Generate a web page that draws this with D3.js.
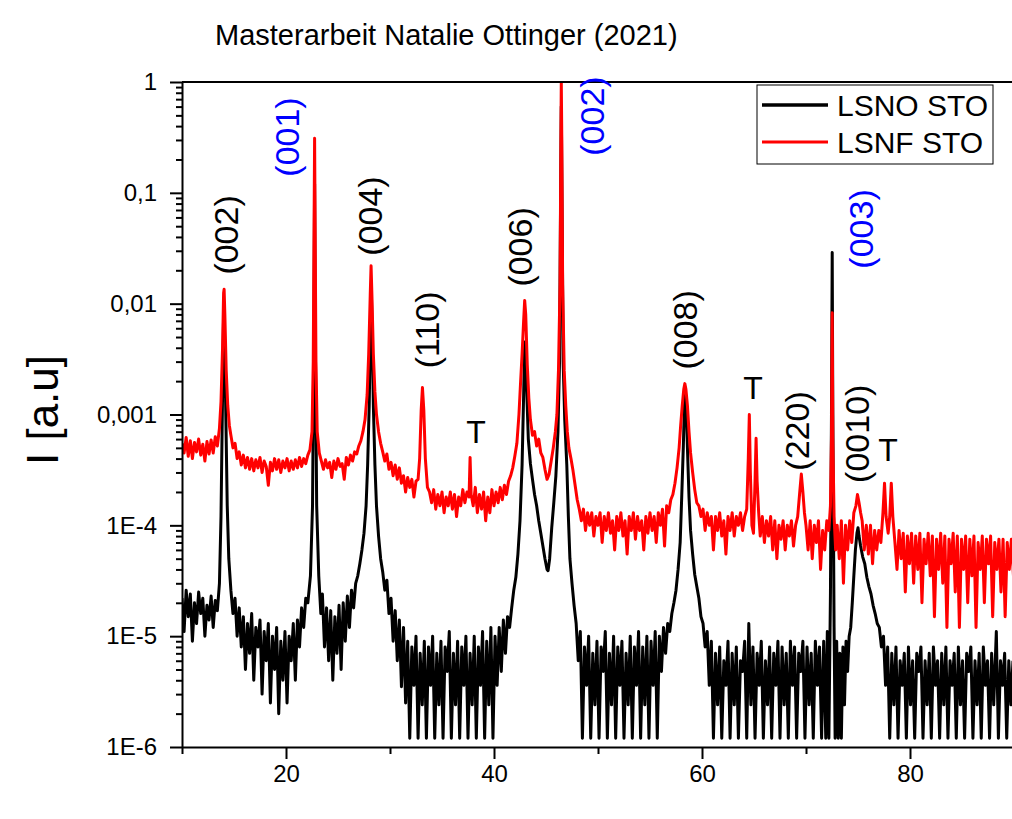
<!DOCTYPE html>
<html>
<head>
<meta charset="utf-8">
<script src="https://cdn.jsdelivr.net/npm/d3@7"></script>
<style>
  html, body { margin: 0; padding: 0; background: #fff; }
  svg { display: block; font-family: "Liberation Sans", Arial, sans-serif; }
</style>
</head>
<body>
<svg id="chart" width="1012" height="819"></svg>
<script>
// Daten: [2theta, Intensität]
const lsnoScan = [
  [10.0,2.2e-5],[10.2,1.1e-5],[10.4,2.6e-5],[10.6,1.5e-5],[10.8,2.4e-5],[11.0,9e-6],[11.2,2.0e-5],[11.4,1.3e-5],
  [11.6,2.5e-5],[11.8,1.6e-5],[12.0,2.2e-5],[12.2,1.0e-5],[12.4,1.9e-5],[12.6,1.4e-5],[12.8,2.3e-5],[13.0,1.2e-5],
  [13.2,2.1e-5],[13.4,1.7e-5],[13.6,3.0e-5],[13.75,1.2e-4],[13.9,1.5e-3],[14.0,8e-3],[14.08,6e-3],[14.2,1.2e-3],
  [14.35,1.5e-4],[14.5,5e-5],[14.7,2.6e-5],[14.9,1.6e-5],[15.1,2.2e-5],[15.3,1.0e-5],[15.5,1.8e-5],[15.7,8e-6],
  [15.9,1.5e-5],[16.1,5e-6],[16.3,1.3e-5],[16.5,7e-6],[16.7,1.6e-5],[16.9,4e-6],[17.1,1.2e-5],[17.3,8e-6],
  [17.5,1.4e-5],[17.7,3e-6],[17.9,1.1e-5],[18.1,6e-6],[18.3,1.3e-5],[18.5,2.5e-6],[18.7,1.0e-5],[18.9,5e-6],
  [19.1,1.2e-5],[19.3,2.0e-6],[19.5,9e-6],[19.7,4e-6],[19.9,1.1e-5],[20.1,2.5e-6],[20.3,1.0e-5],[20.5,6e-6],
  [20.7,1.3e-5],[20.9,4e-6],[21.1,1.4e-5],[21.3,8e-6],[21.5,1.8e-5],[21.7,1.2e-5],[21.9,2.2e-5],[22.1,2.0e-5],
  [22.35,3.5e-5],[22.55,1.5e-4],[22.68,5e-3],[22.75,0.12],[22.82,5e-3],[22.95,1.5e-4],[23.15,3.5e-5],[23.35,1.6e-5],
  [23.5,2.4e-5],[23.7,8e-6],[23.9,1.8e-5],[24.1,6e-6],[24.3,1.7e-5],[24.5,4e-6],[24.7,1.5e-5],[24.9,7e-6],
  [25.1,1.9e-5],[25.3,5e-6],[25.5,2.0e-5],[25.7,9e-6],[25.9,2.3e-5],[26.1,1.2e-5],[26.3,2.6e-5],[26.5,1.8e-5],
  [26.7,3.0e-5],[26.9,3.5e-5],[27.1,4.5e-5],[27.3,6e-5],[27.5,8.5e-5],[27.7,1.5e-4],[27.85,3.5e-4],[28.0,1.2e-3],
  [28.12,6e-3],[28.2,0.014],[28.28,6e-3],[28.4,1.2e-3],[28.55,3.5e-4],[28.7,1.5e-4],[28.9,8e-5],[29.1,5e-5],
  [29.3,3.8e-5],[29.5,2.6e-5],[29.7,3.2e-5],[29.9,1.6e-5],[30.1,2.2e-5],[30.3,9e-6],[30.5,1.7e-5],[30.7,6e-6],
  [30.9,1.4e-5],[31.1,3.5e-6],[31.3,1.2e-5],[31.5,2.5e-6],[31.7,9e-6],[31.9,1.2e-6],[32.1,8e-6],[32.3,3.6e-6],
  [32.5,1.0e-5],[32.7,1.2e-6],[32.9,7e-6],[33.1,2.4e-6],[33.3,9e-6],[33.5,1.2e-6],[33.7,8e-6],[33.9,3.6e-6],
  [34.1,1.0e-5],[34.3,1.2e-6],[34.5,7e-6],[34.7,2.4e-6],[34.9,9e-6],[35.1,1.2e-6],[35.3,8e-6],[35.5,4.8e-6],
  [35.7,1.1e-5],[35.9,1.2e-6],[36.1,7e-6],[36.3,2.4e-6],[36.5,9e-6],[36.7,1.2e-6],[36.9,8e-6],[37.1,3.6e-6],
  [37.3,1.0e-5],[37.5,1.2e-6],[37.7,7e-6],[37.9,2.4e-6],[38.1,1.0e-5],[38.3,1.2e-6],[38.5,8e-6],[38.7,3.6e-6],
  [38.9,1.1e-5],[39.1,1.2e-6],[39.3,9e-6],[39.5,2.4e-6],[39.7,1.2e-5],[39.9,1.2e-6],[40.1,1.0e-5],[40.3,3.6e-6],
  [40.5,1.2e-5],[40.7,4.8e-6],[40.9,1.4e-5],[41.1,7e-6],[41.3,1.5e-5],[41.5,1.2e-5],[41.7,1.8e-5],[41.9,2.6e-5],
  [42.1,3.4e-5],[42.3,5.5e-5],[42.5,1.1e-4],[42.7,3.5e-4],[42.85,1.5e-3],[42.95,4.5e-3],[43.05,4e-3],[43.15,1.6e-3],
  [43.3,6e-4],[43.5,3.6e-4],[43.7,2.6e-4],[43.9,1.9e-4],[44.1,1.5e-4],[44.3,1.1e-4],[44.5,8.5e-5],[44.7,6.5e-5],
  [44.9,5e-5],[45.1,4e-5],[45.2,3.9e-5],[45.35,5e-5],[45.55,9.5e-5],[45.75,1.6e-4],[45.95,2.8e-4],[46.15,7e-4],
  [46.3,3e-3],[46.42,0.15],[46.47,0.6],[46.52,0.15],[46.65,3e-3],[46.8,9e-4],[47.0,3.5e-4],[47.15,1.2e-4],
  [47.3,5e-5],[47.5,3e-5],[47.7,1.9e-5],[47.9,1.3e-5],[48.1,6e-6],[48.3,1.1e-5],[48.5,1.2e-6],[48.7,8e-6],
  [48.9,3.6e-6],[49.1,1.0e-5],[49.3,1.2e-6],[49.5,7e-6],[49.7,2.4e-6],[49.9,9e-6],[50.1,1.2e-6],[50.3,8e-6],
  [50.5,4.8e-6],[50.7,1.1e-5],[50.9,1.2e-6],[51.1,7e-6],[51.3,2.4e-6],[51.5,1.0e-5],[51.7,1.2e-6],[51.9,8e-6],
  [52.1,3.6e-6],[52.3,9e-6],[52.5,1.2e-6],[52.7,7e-6],[52.9,2.4e-6],[53.1,1.0e-5],[53.3,1.2e-6],[53.5,8e-6],
  [53.7,3.6e-6],[53.9,1.1e-5],[54.1,1.2e-6],[54.3,8e-6],[54.5,2.4e-6],[54.7,1.0e-5],[54.9,1.2e-6],[55.1,9e-6],
  [55.3,3.6e-6],[55.5,1.1e-5],[55.7,1.2e-6],[55.9,1.0e-5],[56.1,4.8e-6],[56.3,1.2e-5],[56.5,7e-6],[56.7,1.3e-5],
  [56.9,1.1e-5],[57.1,1.6e-5],[57.3,2e-5],[57.5,2.6e-5],[57.7,4e-5],[57.9,7e-5],[58.05,1.8e-4],[58.2,5e-4],
  [58.32,1.3e-3],[58.4,1.6e-3],[58.48,1.3e-3],[58.6,5e-4],[58.75,1.8e-4],[58.9,9e-5],[59.1,5.5e-5],[59.3,3.6e-5],
  [59.5,2.8e-5],[59.7,2.2e-5],[59.9,1.5e-5],[60.1,1.3e-5],[60.3,8e-6],[60.5,1.1e-5],[60.7,3.6e-6],[60.9,9e-6],
  [61.1,1.2e-6],[61.3,7e-6],[61.5,2.4e-6],[61.7,8e-6],[61.9,1.2e-6],[62.1,6e-6],[62.3,3.6e-6],[62.5,9e-6],
  [62.7,1.2e-6],[62.9,7e-6],[63.1,2.4e-6],[63.3,8e-6],[63.5,1.2e-6],[63.7,6e-6],[63.9,4.8e-6],[64.1,9e-6],
  [64.3,1.2e-6],[64.5,1.3e-5],[64.7,2.4e-6],[64.9,8e-6],[65.1,1.2e-6],[65.3,7e-6],[65.5,3.6e-6],[65.7,9e-6],
  [65.9,1.2e-6],[66.1,6e-6],[66.3,2.4e-6],[66.5,8e-6],[66.7,1.2e-6],[66.9,7e-6],[67.1,3.6e-6],[67.3,9e-6],
  [67.5,1.2e-6],[67.7,8e-6],[67.9,2.4e-6],[68.1,7e-6],[68.3,1.2e-6],[68.5,9e-6],[68.7,3.6e-6],[68.9,8e-6],
  [69.1,1.2e-6],[69.3,7e-6],[69.5,4.8e-6],[69.7,9e-6],[69.9,1.2e-6],[70.1,8e-6],[70.3,2.4e-6],[70.5,7e-6],
  [70.7,1.2e-6],[70.9,9e-6],[71.1,3.6e-6],[71.3,8e-6],[71.5,1.2e-6],[71.7,9e-6],[71.9,1.2e-6],[72.05,1.1e-5],
  [72.2,1.2e-6],[72.35,2.4e-5],[72.45,1e-3],[72.52,0.029],[72.58,1e-3],[72.7,1.2e-5],[72.8,1.2e-6],[72.95,9e-6],
  [73.1,1.2e-6],[73.25,7e-6],[73.4,1.2e-6],[73.55,8e-6],[73.7,2.4e-6],[73.85,9e-6],[74.0,4.8e-6],[74.15,1.0e-5],
  [74.3,1.2e-5],[74.45,2e-5],[74.6,3.5e-5],[74.75,6e-5],[74.9,8.5e-5],[75.0,9.5e-5],[75.1,8e-5],[75.25,6.5e-5],
  [75.45,5.2e-5],[75.65,4.5e-5],[75.85,3.4e-5],[76.05,2.8e-5],[76.25,2.4e-5],[76.45,1.9e-5],[76.65,1.6e-5],[76.85,1.3e-5],
  [77.05,1.2e-5],[77.25,8e-6],[77.45,1.0e-5],[77.65,3.6e-6],[77.85,8e-6],[78.05,1.2e-6],[78.25,7e-6],[78.45,2.4e-6],
  [78.65,8e-6],[78.85,1.2e-6],[79.05,6e-6],[79.25,3.6e-6],[79.45,7e-6],[79.65,1.2e-6],[79.85,8e-6],[80.05,2.4e-6],
  [80.25,6e-6],[80.45,1.2e-6],[80.65,7e-6],[80.85,4.8e-6],[81.05,8e-6],[81.25,1.2e-6],[81.45,6e-6],[81.65,2.4e-6],
  [81.85,7e-6],[82.05,1.2e-6],[82.25,8e-6],[82.45,3.6e-6],[82.65,6e-6],[82.85,1.2e-6],[83.05,7e-6],[83.25,2.4e-6],
  [83.45,8e-6],[83.65,1.2e-6],[83.85,6e-6],[84.05,3.6e-6],[84.25,7e-6],[84.45,1.2e-6],[84.65,8e-6],[84.85,2.4e-6],
  [85.05,6e-6],[85.25,1.2e-6],[85.45,7e-6],[85.65,4.8e-6],[85.85,8e-6],[86.05,1.2e-6],[86.25,6e-6],[86.45,2.4e-6],
  [86.65,7e-6],[86.85,1.2e-6],[87.05,8e-6],[87.25,3.6e-6],[87.45,6e-6],[87.65,1.2e-6],[87.85,7e-6],[88.05,2.4e-6],
  [88.3,1.1e-5],[88.5,1.2e-6],[88.7,6e-6],[88.9,3.6e-6],[89.1,7e-6],[89.3,1.2e-6],[89.5,6e-6],[89.7,2.4e-6],
  [89.9,6e-6]
];

const lsnfScan = [
  [10.0,5.5e-4],[10.2,4.5e-4],[10.4,6.2e-4],[10.6,4.2e-4],[10.8,5.8e-4],[11.0,4.0e-4],[11.2,5.6e-4],[11.4,4.6e-4],
  [11.6,6.0e-4],[11.8,4.3e-4],[12.0,5.4e-4],[12.2,3.8e-4],[12.4,5.7e-4],[12.6,4.4e-4],[12.8,5.9e-4],[13.0,4.5e-4],
  [13.2,6.3e-4],[13.4,5.2e-4],[13.6,7.5e-4],[13.75,1.3e-3],[13.9,4e-3],[14.0,0.0125],[14.05,0.0135],[14.12,8e-3],
  [14.25,2.5e-3],[14.4,1.2e-3],[14.55,8e-4],[14.7,6.5e-4],[14.9,5e-4],[15.1,5.5e-4],[15.3,4.0e-4],[15.5,4.6e-4],
  [15.7,3.5e-4],[15.9,4.3e-4],[16.1,3.3e-4],[16.3,4.1e-4],[16.5,3.2e-4],[16.7,4.0e-4],[16.9,3.1e-4],[17.1,3.9e-4],
  [17.3,3.3e-4],[17.5,4.1e-4],[17.7,3.0e-4],[17.9,3.8e-4],[18.1,3.4e-4],[18.3,2.3e-4],[18.5,3.7e-4],[18.7,3.1e-4],
  [18.9,4.0e-4],[19.1,3.2e-4],[19.3,3.9e-4],[19.5,3.0e-4],[19.7,3.8e-4],[19.9,3.3e-4],[20.1,4.0e-4],[20.3,3.1e-4],
  [20.5,3.8e-4],[20.7,3.2e-4],[20.9,3.9e-4],[21.1,3.3e-4],[21.3,4.1e-4],[21.5,3.4e-4],[21.7,4.0e-4],[21.9,3.6e-4],
  [22.1,4.3e-4],[22.3,4.8e-4],[22.5,7e-4],[22.62,3e-3],[22.7,0.05],[22.75,0.31],[22.8,0.05],[22.88,3e-3],
  [23.0,7e-4],[23.2,4.5e-4],[23.4,3.8e-4],[23.6,3.2e-4],[23.8,3.9e-4],[24.0,3.3e-4],[24.2,3.7e-4],[24.4,2.7e-4],
  [24.6,3.8e-4],[24.8,3.2e-4],[25.0,4.0e-4],[25.2,3.4e-4],[25.4,3.6e-4],[25.6,2.6e-4],[25.8,4.1e-4],[26.0,3.5e-4],
  [26.2,4.3e-4],[26.4,3.8e-4],[26.6,4.6e-4],[26.8,4.4e-4],[27.0,5.2e-4],[27.2,5.8e-4],[27.4,7e-4],[27.6,9e-4],
  [27.8,1.5e-3],[27.95,3.5e-3],[28.1,0.012],[28.18,0.022],[28.26,0.012],[28.4,3.5e-3],[28.55,1.6e-3],[28.7,1.0e-3],
  [28.9,7e-4],[29.1,5.5e-4],[29.3,4.6e-4],[29.5,3.8e-4],[29.7,4.4e-4],[29.9,3.2e-4],[30.1,3.7e-4],[30.3,2.8e-4],
  [30.5,3.5e-4],[30.7,2.6e-4],[30.9,3.3e-4],[31.1,2.4e-4],[31.3,2.8e-4],[31.5,2.0e-4],[31.7,2.7e-4],[31.9,2.2e-4],
  [32.1,2.6e-4],[32.3,1.8e-4],[32.5,2.5e-4],[32.7,2.6e-4],[32.85,4e-4],[33.0,1.1e-3],[33.12,1.75e-3],[33.25,1.1e-3],
  [33.4,4e-4],[33.6,2.2e-4],[33.8,2.0e-4],[34.0,1.6e-4],[34.2,2.1e-4],[34.4,1.4e-4],[34.6,1.9e-4],[34.8,1.5e-4],
  [35.0,2.0e-4],[35.2,1.3e-4],[35.4,1.8e-4],[35.6,1.5e-4],[35.8,2.0e-4],[36.0,1.4e-4],[36.2,1.9e-4],[36.4,1.2e-4],
  [36.6,1.8e-4],[36.8,1.5e-4],[37.0,2.1e-4],[37.2,1.6e-4],[37.4,2.0e-4],[37.6,1.8e-4],[37.7,4.1e-4],[37.8,1.9e-4],
  [38.0,1.5e-4],[38.2,2.2e-4],[38.4,1.3e-4],[38.6,1.9e-4],[38.8,1.4e-4],[39.0,2.0e-4],[39.2,1.1e-4],[39.4,1.8e-4],
  [39.6,1.3e-4],[39.8,2.1e-4],[40.0,1.5e-4],[40.2,2.0e-4],[40.4,1.6e-4],[40.6,2.2e-4],[40.8,1.7e-4],[41.0,2.3e-4],
  [41.2,1.9e-4],[41.4,2.5e-4],[41.6,2.8e-4],[41.8,3.3e-4],[42.0,4.2e-4],[42.2,5.5e-4],[42.4,1.0e-3],[42.55,1.9e-3],
  [42.7,3.5e-3],[42.85,7e-3],[42.95,0.0107],[43.05,8e-3],[43.2,2.8e-3],[43.35,1.4e-3],[43.5,9e-4],[43.7,6.5e-4],
  [43.9,7e-4],[44.1,5.2e-4],[44.3,6e-4],[44.5,4.5e-4],[44.7,4.1e-4],[44.9,3.2e-4],[45.1,2.6e-4],[45.3,2.9e-4],
  [45.5,3.8e-4],[45.7,5e-4],[45.9,7e-4],[46.05,1.0e-3],[46.2,2.5e-3],[46.35,0.015],[46.43,0.3],[46.47,1.0],
  [46.52,0.3],[46.6,0.015],[46.75,2.5e-3],[46.9,1.2e-3],[47.05,7e-4],[47.2,5e-4],[47.4,4e-4],[47.6,3.1e-4],
  [47.8,2.3e-4],[48.0,1.7e-4],[48.2,1.4e-4],[48.4,1.1e-4],[48.6,1.4e-4],[48.8,9e-5],[49.0,1.3e-4],[49.2,1.0e-4],
  [49.4,1.3e-4],[49.6,8e-5],[49.8,1.2e-4],[50.0,1.0e-4],[50.2,1.3e-4],[50.4,7e-5],[50.6,1.2e-4],[50.8,9e-5],
  [51.0,1.3e-4],[51.2,8.5e-5],[51.4,1.1e-4],[51.6,6e-5],[51.8,1.2e-4],[52.0,9e-5],[52.2,1.3e-4],[52.4,8e-5],
  [52.6,1.1e-4],[52.8,5.5e-5],[53.0,1.2e-4],[53.2,9e-5],[53.4,1.3e-4],[53.6,7.5e-5],[53.8,1.2e-4],[54.0,9e-5],
  [54.2,1.1e-4],[54.4,6e-5],[54.6,1.2e-4],[54.8,8.5e-5],[55.0,1.3e-4],[55.2,9e-5],[55.4,1.2e-4],[55.6,7e-5],
  [55.8,1.3e-4],[56.0,1.0e-4],[56.2,1.4e-4],[56.4,6.5e-5],[56.6,1.5e-4],[56.8,1.3e-4],[57.0,1.7e-4],[57.2,1.9e-4],
  [57.4,2.4e-4],[57.6,3.3e-4],[57.8,5e-4],[57.95,8e-4],[58.1,1.2e-3],[58.25,1.7e-3],[58.35,1.9e-3],[58.45,1.7e-3],
  [58.6,1.2e-3],[58.75,7e-4],[58.9,4.5e-4],[59.1,3e-4],[59.3,2.1e-4],[59.5,1.6e-4],[59.7,1.5e-4],[59.9,1.2e-4],
  [60.1,1.4e-4],[60.3,9e-5],[60.5,1.3e-4],[60.7,1.0e-4],[60.9,1.2e-4],[61.1,6e-5],[61.3,1.2e-4],[61.5,9e-5],
  [61.7,1.3e-4],[61.9,8e-5],[62.1,1.1e-4],[62.3,5.5e-5],[62.5,1.2e-4],[62.7,9e-5],[62.9,1.3e-4],[63.1,8e-5],
  [63.3,1.2e-4],[63.5,1.0e-4],[63.7,1.3e-4],[63.9,9e-5],[64.1,1.2e-4],[64.3,1.4e-4],[64.45,4e-4],[64.55,1.0e-3],
  [64.65,3e-4],[64.8,1.0e-4],[64.95,8.5e-5],[65.1,2.5e-4],[65.2,6.1e-4],[65.3,2.5e-4],[65.45,1.3e-4],[65.6,8e-5],
  [65.8,1.2e-4],[66.0,7e-5],[66.2,1.1e-4],[66.4,8e-5],[66.6,1.2e-4],[66.8,6e-5],[67.0,1.1e-4],[67.2,5e-5],
  [67.4,1.0e-4],[67.6,7.5e-5],[67.8,1.1e-4],[68.0,6e-5],[68.2,1.0e-4],[68.4,8e-5],[68.6,1.1e-4],[68.8,6.5e-5],
  [69.0,1.0e-4],[69.2,1.2e-4],[69.4,2.0e-4],[69.55,2.9e-4],[69.7,2.0e-4],[69.85,1.3e-4],[70.0,1.0e-4],[70.2,6e-5],
  [70.4,1.1e-4],[70.6,5e-5],[70.8,1.0e-4],[71.0,7e-5],[71.2,1.1e-4],[71.4,4e-5],[71.6,9e-5],[71.8,6e-5],
  [72.0,1.1e-4],[72.2,9e-5],[72.35,1.5e-4],[72.45,6e-4],[72.52,8.3e-3],[72.58,6e-4],[72.7,1.2e-4],[72.85,6e-5],
  [73.0,1.0e-4],[73.2,5e-5],[73.4,1.1e-4],[73.6,3e-5],[73.8,1.0e-4],[74.0,6e-5],[74.2,1.1e-4],[74.4,7e-5],
  [74.6,1.3e-4],[74.8,1.5e-4],[74.95,1.9e-4],[75.1,1.6e-4],[75.25,1.3e-4],[75.4,1.1e-4],[75.6,6e-5],[75.8,1.0e-4],
  [76.0,5.5e-5],[76.2,1.0e-4],[76.4,4.5e-5],[76.6,9e-5],[76.8,6e-5],[77.0,9e-5],[77.2,7e-5],[77.4,1.3e-4],
  [77.55,2.4e-4],[77.7,1.2e-4],[77.9,8.5e-5],[78.05,1.2e-4],[78.2,2.4e-4],[78.35,1.2e-4],[78.55,7e-5],[78.75,4e-5],
  [78.95,9e-5],[79.15,5e-5],[79.35,8.5e-5],[79.55,2.5e-5],[79.75,8e-5],[79.95,4.5e-5],[80.15,8.5e-5],[80.35,3e-5],
  [80.55,8e-5],[80.75,4e-5],[80.95,8.5e-5],[81.15,2e-5],[81.35,7.5e-5],[81.55,4.5e-5],[81.75,8.5e-5],[81.95,3.5e-5],
  [82.15,8e-5],[82.35,1.5e-5],[82.55,7.5e-5],[82.75,4e-5],[82.95,8.5e-5],[83.15,3e-5],[83.35,8e-5],[83.55,1.2e-5],
  [83.75,7.5e-5],[83.95,4.5e-5],[84.15,8.5e-5],[84.35,2.5e-5],[84.55,8e-5],[84.75,1.2e-5],[84.95,7.5e-5],[85.15,4e-5],
  [85.35,8e-5],[85.55,2e-5],[85.75,7.5e-5],[85.95,3.5e-5],[86.15,8e-5],[86.35,1.2e-5],[86.55,7e-5],[86.75,4e-5],
  [86.95,8e-5],[87.15,2e-5],[87.35,7.5e-5],[87.55,4.5e-5],[87.75,8e-5],[87.95,1.5e-5],[88.15,7e-5],[88.35,4e-5],
  [88.55,7.5e-5],[88.75,2.5e-5],[88.95,7.5e-5],[89.15,1.5e-5],[89.35,7e-5],[89.55,4e-5],[89.75,7.5e-5],[89.95,3.5e-5]
];

const seriesNames  = ["LSNO STO", "LSNF STO"];
const seriesColors = ["#000000", "#ff0000"];

const xTickValues  = [20, 40, 60, 80];
const xMinorValues = [10, 30, 50, 70, 90];
const yTickValues  = [1, 0.1, 0.01, 0.001, 1e-4, 1e-5, 1e-6];
const yTickLabels  = ["1", "0,1", "0,01", "0,001", "1E-4", "1E-5", "1E-6"];

// Reflexbeschriftungen: [Text, 2theta, Intensität, Farbe]
const peakLabels = [
  ["(002)", 14.22, 0.0417, "#000"],
  ["(001)", 20.08, 0.319,  "#0000ff"],
  ["(004)", 28.07, 0.0618, "#000"],
  ["(110)", 33.55, 5.8e-3, "#000"],
  ["(006)", 42.49, 0.0325, "#000"],
  ["(002)", 49.41, 0.493,  "#0000ff"],
  ["(008)", 58.35, 5.8e-3, "#000"],
  ["(220)", 69.12, 7.1e-4, "#000"],
  ["(0010)", 74.89, 6.7e-4, "#000"],
  ["(003)", 75.28, 0.0472, "#0000ff"]
];
const tLabels = [[38.27, 6.95e-4], [64.9, 1.73e-3], [77.88, 4.8e-4]];

const width = 1012, height = 819;
const margin = { left: 182, top: 82, right: 1014, bottom: 747 };

const svg = d3.select("#chart");

const x = d3.scaleLinear().domain([10, 90]).range([margin.left, margin.right]);
const y = d3.scaleLog().domain([1e-6, 1]).range([margin.bottom, margin.top]);

// Titel
svg.append("text")
    .attr("x", 215).attr("y", 45)
    .attr("font-size", 29)
    .text("Masterarbeit Natalie Ottinger (2021)");

svg.append("clipPath").attr("id", "plotclip")
  .append("rect")
    .attr("x", margin.left).attr("y", margin.top)
    .attr("width", margin.right - margin.left).attr("height", margin.bottom - margin.top);

const line = d3.line().x(d => x(d[0])).y(d => y(d[1]));

const plot = svg.append("g").attr("clip-path", "url(#plotclip)");
[lsnoScan, lsnfScan].forEach((scan, i) => {
    plot.append("path")
        .datum(scan)
        .attr("fill", "none")
        .attr("stroke", seriesColors[i])
        .attr("stroke-width", 3)
        .attr("stroke-linejoin", "round")
        .attr("d", line);
});

// Achsen
svg.append("g")
    .attr("transform", `translate(0,${margin.bottom})`)
    .call(d3.axisBottom(x).tickValues(xTickValues).tickSize(12).tickSizeOuter(0).tickPadding(6));
svg.append("g")
    .attr("transform", `translate(0,${margin.bottom})`)
    .call(d3.axisBottom(x).tickValues(xMinorValues).tickSize(7).tickFormat(""))
    .call(g => g.select(".domain").remove());

svg.append("g")
    .attr("transform", `translate(${margin.left},0)`)
    .call(d3.axisLeft(y).tickValues(yTickValues).tickSize(12).tickSizeOuter(0).tickPadding(13)
        .tickFormat((d, i) => yTickLabels[i]));

const minorY = [];
yTickValues.slice(1).forEach(dec => {
    for (let k = 2; k <= 9; k++) minorY.push(dec * k);
});
svg.append("g")
    .attr("transform", `translate(${margin.left},0)`)
    .call(d3.axisLeft(y).tickValues(minorY).tickSize(6).tickFormat(""))
    .call(g => g.select(".domain").remove());

svg.selectAll(".domain, .tick line").attr("stroke", "#000").attr("stroke-width", 2);
svg.selectAll(".tick text")
    .attr("font-family", "'Liberation Sans', Arial, sans-serif")
    .attr("font-size", 24).attr("fill", "#000");

// obere Rahmenlinie
svg.append("line")
    .attr("x1", margin.left).attr("x2", margin.right)
    .attr("y1", margin.top).attr("y2", margin.top)
    .attr("stroke", "#000").attr("stroke-width", 2);

// y-Achsentitel
svg.append("text")
    .attr("transform", "translate(58,410) rotate(-90)")
    .attr("text-anchor", "middle")
    .attr("font-size", 44)
    .text("I [a.u]");

// Reflexe
svg.append("g").selectAll("text")
    .data(peakLabels)
    .join("text")
    .attr("transform", d => `translate(${x(d[1])},${y(d[2])}) rotate(-90)`)
    .attr("text-anchor", "middle")
    .attr("dominant-baseline", "central")
    .attr("font-size", 34)
    .attr("fill", d => d[3])
    .text(d => d[0]);

svg.append("g").selectAll("text")
    .data(tLabels)
    .join("text")
    .attr("x", d => x(d[0]))
    .attr("y", d => y(d[1]))
    .attr("text-anchor", "middle")
    .attr("dominant-baseline", "central")
    .attr("font-size", 32)
    .text("T");

// Legende
const legend = svg.append("g");
legend.append("rect")
    .attr("x", 757).attr("y", 85).attr("width", 236).attr("height", 79)
    .attr("fill", "#fff").attr("stroke", "#000").attr("stroke-width", 1);
seriesNames.forEach((name, i) => {
    const yy = 105 + i * 37;
    legend.append("line")
        .attr("x1", 762).attr("x2", 828).attr("y1", yy).attr("y2", yy)
        .attr("stroke", seriesColors[i]).attr("stroke-width", i === 0 ? 3.5 : 3);
    legend.append("text")
        .attr("x", 837).attr("y", yy + 11)
        .attr("font-size", 30)
        .text(name);
});
</script>
</body>
</html>
